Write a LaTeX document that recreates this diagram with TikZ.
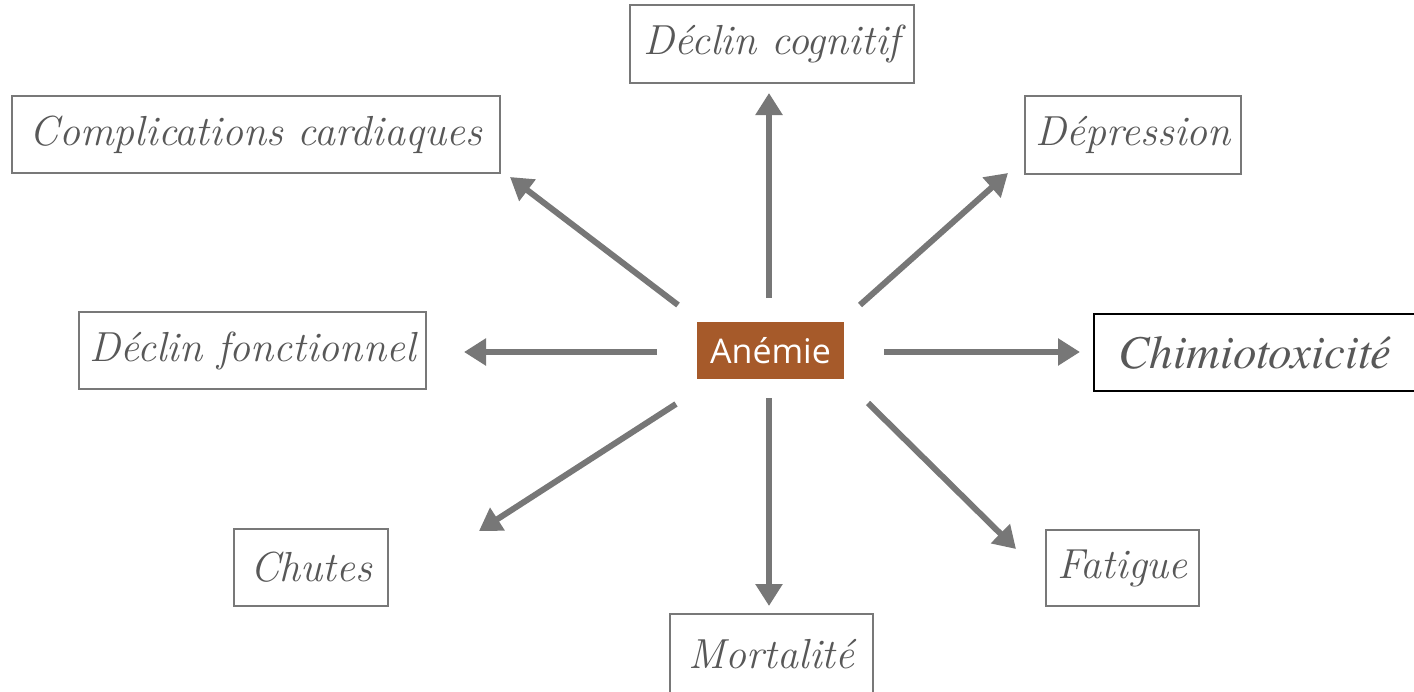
\documentclass[tikz,border=0pt]{standalone}
\usepackage{fontspec}
\newfontfamily\opensans{Open Sans}
\newfontfamily\timesit{texgyretermes-italic.otf}
\usetikzlibrary{arrows.meta}
\definecolor{boxgray}{HTML}{787878}
\definecolor{txtgray}{HTML}{585858}
\definecolor{arrgray}{HTML}{777777}
\definecolor{anfill}{HTML}{A65A2A}
\tikzset{
  outbox/.style={draw=boxgray, line width=2.5pt, fill=white, inner sep=0pt, text=txtgray,
    font=\fontsize{42}{50}\selectfont\itshape, anchor=center},
  centerbox/.style={fill=anfill, inner sep=0pt, text=white, minimum width=147pt, minimum height=57pt,
    font=\opensans\fontsize{34}{40}\selectfont},
  chimbox/.style={draw=black, line width=2pt, fill=white, inner sep=0pt, text=txtgray,
    font=\timesit\fontsize{47}{54}\selectfont},
  arr/.style={draw=arrgray, line width=6pt, -{Triangle[length=22pt,width=26pt]}}
}
\begin{document}
\begin{tikzpicture}[x=1pt,y=-1pt]
\useasboundingbox (0,0) rectangle (1414,691);
\node[outbox, minimum width=284pt, minimum height=78pt] (cog) at (772,44) {Déclin cognitif};
\node[outbox, minimum width=488pt, minimum height=77pt] (card) at (256,134.5) {Complications cardiaques};
\node[outbox, minimum width=216pt, minimum height=78pt] (dep) at (1133,135) {Dépression};
\node[outbox, minimum width=347pt, minimum height=77pt] (fonc) at (252.5,350.5) {Déclin fonctionnel};
\node[centerbox] (an) at (770.5,350.5) {Anémie};
\node[chimbox, minimum width=322pt, minimum height=77pt] (chim) at (1255,352.5) {Chimiotoxicité};
\node[outbox, minimum width=154pt, minimum height=77pt] (chut) at (311,567.5) {Chutes};
\node[outbox, minimum width=153pt, minimum height=76pt] (fat) at (1122.5,568) {Fatigue};
\node[outbox, minimum width=203pt, minimum height=80pt] (mort) at (771.5,654) {Mortalité};
% arrow ends
\coordinate (s1) at (769,298); \coordinate (t1) at (769,93);
\coordinate (s2) at (678,305); \coordinate (t2) at (510,177);
\coordinate (s3) at (860,305); \coordinate (t3) at (1008,173);
\coordinate (s4) at (657,352); \coordinate (t4) at (464,352);
\coordinate (s5) at (884,352); \coordinate (t5) at (1080,352);
\coordinate (s6) at (676,404); \coordinate (t6) at (479,531);
\coordinate (s7) at (769,398); \coordinate (t7) at (769,606);
\coordinate (s8) at (868,403); \coordinate (t8) at (1016,549);
\foreach \i in {1,...,8} {\draw[arr] (s\i) -- (t\i);}
\end{tikzpicture}
\end{document}
